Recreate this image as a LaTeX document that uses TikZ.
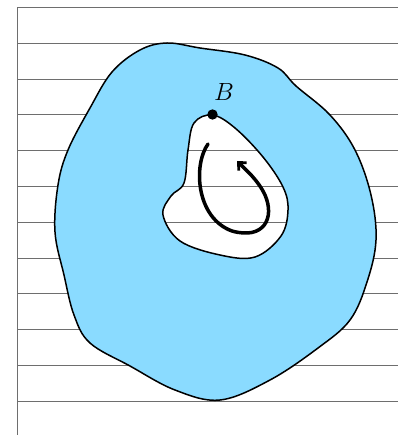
\documentclass[tikz,border=0pt]{standalone}
\usetikzlibrary{arrows.meta}
\definecolor{pondblue}{RGB}{138,219,255}
\definecolor{rulegray}{RGB}{110,110,110}
\tikzset{
  sheet/.style={x=1pt,y=-1pt,>={Straight Barb[length=6pt,width=11pt,line width=2.8pt]}},
  ruling/.style={draw=rulegray,line width=0.9pt},
  shore/.style={draw=black,line width=1.5pt,line join=round},
  pond/.style={shore,fill=pondblue,even odd rule},
  loop/.style={->,line width=3.5pt,line cap=round},
  pointlabel/.style={font=\fontsize{24}{28}\selectfont},
}
\begin{document}
\begin{tikzpicture}[sheet]
\useasboundingbox (0,0) rectangle (398,435);
% ruled background
\coordinate (topleft) at (17,7.5);
\coordinate (botleft) at (17,435);
\foreach \k in {0,...,11} {
  \coordinate (l\k) at (17,{7.5+35.8*\k});
  \coordinate (r\k) at (398,{7.5+35.8*\k});
  \draw[ruling] (l\k)--(r\k);
}
\draw[ruling] (topleft)--(botleft);
% region with a hole
\path[pond] plot[smooth cycle,tension=0.6] coordinates {
  (167,43) (200,48) (245,55) (278,68) (296,86) (330,115) (355,150)
  (371,195) (376,240) (367,282) (350,320) (318,348) (270,380)
  (220,400) (175,390) (130,366) (90,343) (74,315) (64,275) (55,232)
  (58,185) (68,150) (90,108) (112,72) (140,50)}
  plot[smooth cycle,tension=0.6] coordinates {
  (212.5,115) (235,128) (263,157) (283,187) (288,210) (281,236)
  (255,257) (220,255) (180,241) (163,215) (171,196) (184,183)
  (188,150) (194,123)};
% boundary point and loop
\coordinate (B) at (212.5,114.5);
\fill (B) circle (5.2);
\node[pointlabel] (Blabel) at (224,92) {$B$};
\coordinate (loopstart) at (208,144);
\coordinate (looptip) at (237,161);
\draw[loop] (loopstart) .. controls (193,165) and (196,218) .. (232,231)
  .. controls (264,240) and (275,218) .. (265,195)
  .. controls (258,180) and (246,170) .. (looptip);
\end{tikzpicture}
\end{document}
